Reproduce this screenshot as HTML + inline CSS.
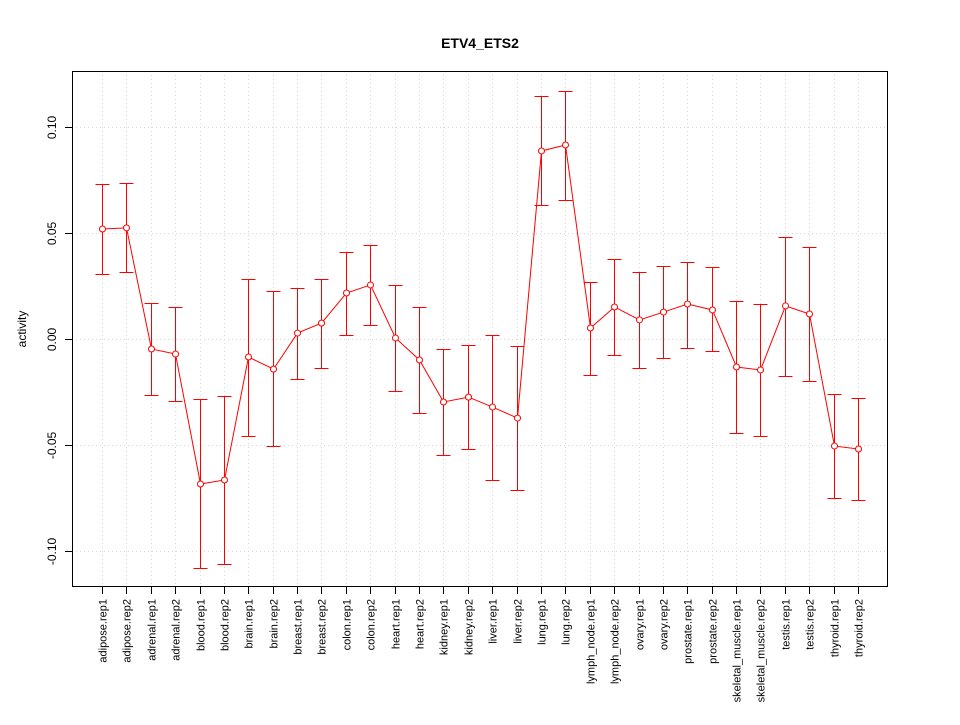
<!DOCTYPE html>
<html><head><meta charset="utf-8"><style>
body{margin:0;background:#fff}
svg text{font-family:"Liberation Sans",sans-serif}
</style></head><body>
<svg id="chart" width="960" height="720" xmlns="http://www.w3.org/2000/svg">
<rect width="960" height="720" fill="#fff"/>
<text x="480" y="48" text-anchor="middle" font-size="14" font-weight="bold">ETV4_ETS2</text>
<text transform="translate(26,329) rotate(-90)" text-anchor="middle" font-size="12">activity</text>
<g id="grid"></g><g id="axes"></g><g id="marks"></g>
<rect x="72.5" y="71.5" width="815" height="515" fill="none" stroke="#000"/>
</svg>
<script>
const categories=["adipose.rep1","adipose.rep2","adrenal.rep1","adrenal.rep2","blood.rep1","blood.rep2","brain.rep1","brain.rep2","breast.rep1","breast.rep2","colon.rep1","colon.rep2","heart.rep1","heart.rep2","kidney.rep1","kidney.rep2","liver.rep1","liver.rep2","lung.rep1","lung.rep2","lymph_node.rep1","lymph_node.rep2","ovary.rep1","ovary.rep2","prostate.rep1","prostate.rep2","skeletal_muscle.rep1","skeletal_muscle.rep2","testis.rep1","testis.rep2","thyroid.rep1","thyroid.rep2"];
const values=[0.0519,0.0524,-0.0047,-0.0071,-0.0684,-0.0665,-0.0085,-0.0142,0.0028,0.0075,0.0217,0.0255,0.0005,-0.0099,-0.0297,-0.0274,-0.0321,-0.0373,0.0887,0.0915,0.0052,0.0151,0.009,0.0127,0.0165,0.0137,-0.0132,-0.0146,0.0156,0.0118,-0.0505,-0.0519];
const upper=[0.0731,0.0736,0.017,0.0151,-0.0283,-0.0269,0.0283,0.0226,0.024,0.0283,0.041,0.0443,0.0255,0.0151,-0.0047,-0.0028,0.0019,-0.0033,0.1146,0.117,0.0269,0.0377,0.0316,0.0344,0.0363,0.034,0.0179,0.0165,0.0481,0.0434,-0.0259,-0.0278];
const lower=[0.0307,0.0316,-0.0264,-0.0292,-0.108,-0.106,-0.0458,-0.0505,-0.0189,-0.0137,0.0019,0.0066,-0.0245,-0.0349,-0.0547,-0.0519,-0.0665,-0.0712,0.0632,0.0656,-0.017,-0.0075,-0.0137,-0.009,-0.0042,-0.0057,-0.0443,-0.0458,-0.0175,-0.0198,-0.075,-0.0759];
const yTicks=[-0.10,-0.05,0.00,0.05,0.10];
const yTickLabels=["-0.10","-0.05","0.00","0.05","0.10"];
const NS="http://www.w3.org/2000/svg";
const n=categories.length;
function x(i){return Math.round(102+i*(858-102)/(n-1))+0.5;}
function y(v){return Math.round(339-v*2120)+0.5;}
function mk(parent,tag,attrs){const e=document.createElementNS(NS,tag);for(const k in attrs)e.setAttribute(k,attrs[k]);document.getElementById(parent).appendChild(e);return e;}
yTicks.forEach((t,i)=>{
 let g=mk("grid","line",{x1:72,x2:888,y1:y(t),y2:y(t),stroke:"#d8d8d8","stroke-dasharray":"1,3"});
 
 
 let tk=mk("axes","line",{x1:65,x2:72,y1:y(t),y2:y(t),stroke:"#000"});
 
 
 let tx=mk("axes","text",{transform:`translate(56,${y(t)}) rotate(-90)`,"text-anchor":"middle","font-size":"12"});
 tx.textContent=yTickLabels[i];
 
 
});
mk("axes","line",{x1:72.5,x2:72.5,y1:y(yTicks[0]),y2:y(yTicks[4]),stroke:"#000"});
categories.forEach((c,i)=>{
 let g=mk("grid","line",{x1:x(i),x2:x(i),y1:71,y2:587,stroke:"#d8d8d8","stroke-dasharray":"1,3"});
 
 
 let tk=mk("axes","line",{x1:x(i),x2:x(i),y1:587,y2:594,stroke:"#000"});
 
 
 let tx=mk("axes","text",{transform:`translate(${x(i)+4},599) rotate(-90)`,"text-anchor":"end","font-size":"11"});
 tx.textContent=c;
 
 
});
let pts=values.map((v,i)=>x(i)+","+(339-v*2120)).join(" ");
let line=mk("marks","polyline",{points:pts,fill:"none",stroke:"#ff0000","stroke-width":"1"});


values.forEach((v,i)=>{
 let e=mk("marks","path",{d:`M${x(i)},${y(upper[i])}V${y(lower[i])}M${x(i)-7},${y(upper[i])}H${x(i)+7}M${x(i)-7},${y(lower[i])}H${x(i)+7}`,stroke:"#ff0000",fill:"none","stroke-width":"1"});
 
 
 let p=mk("marks","circle",{cx:x(i),cy:339-v*2120,r:3,fill:"#fff",stroke:"#ff0000","stroke-width":"1"});
 
 
});
</script>
</body></html>
